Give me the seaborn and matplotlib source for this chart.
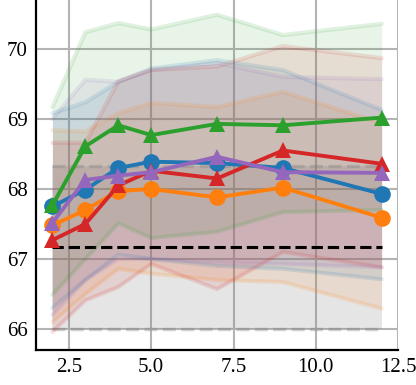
import numpy as np
import pandas as pd
import seaborn as sns
import matplotlib.pyplot as plt

# data
steps = [2, 3, 4, 5, 7, 9, 12]

blue_mean = [67.75, 67.99, 68.30, 68.39, 68.37, 68.30, 67.93]
blue_hi = [69.08, 69.24, 69.53, 69.72, 69.84, 69.70, 69.13]
blue_lo = [66.30, 66.70, 67.06, 67.00, 66.90, 66.86, 66.71]

orange_mean = [67.48, 67.70, 67.97, 68.00, 67.88, 68.02, 67.59]
orange_hi = [68.84, 68.82, 69.08, 69.23, 69.17, 69.39, 68.94]
orange_lo = [66.10, 66.50, 66.86, 66.79, 66.70, 66.67, 66.29]

green_mean = [67.77, 68.61, 68.91, 68.77, 68.93, 68.91, 69.02]
green_hi = [69.17, 70.24, 70.37, 70.28, 70.49, 70.20, 70.36]
green_lo = [66.49, 67.00, 67.51, 67.30, 67.39, 67.67, 67.70]

red_mean = [67.27, 67.50, 68.05, 68.26, 68.15, 68.55, 68.36]
red_hi = [68.66, 68.66, 69.54, 69.70, 69.75, 70.04, 69.87]
red_lo = [65.96, 66.41, 66.60, 66.93, 66.57, 67.10, 66.88]

purple_mean = [67.52, 68.13, 68.19, 68.24, 68.46, 68.24, 68.23]
purple_hi = [69.00, 69.56, 69.53, 69.70, 69.80, 69.60, 69.57]
purple_lo = [66.20, 66.70, 67.00, 67.00, 66.95, 66.93, 66.88]

base_mean = 67.17
base_hi = 68.33
base_lo = 66.00

xticks = [2.5, 5.0, 7.5, 10.0, 12.5]
yticks = [66, 67, 68, 69, 70]

series = [
    ("blue", blue_mean, blue_hi, blue_lo, "tab:blue", "o"),
    ("orange", orange_mean, orange_hi, orange_lo, "tab:orange", "o"),
    ("green", green_mean, green_hi, green_lo, "tab:green", "^"),
    ("red", red_mean, red_hi, red_lo, "tab:red", "^"),
    ("purple", purple_mean, purple_hi, purple_lo, "tab:purple", "^"),
]

sns.set_theme(style="whitegrid")
plt.rcParams['font.family'] = ['Liberation Serif', 'DejaVu Serif']

fig = plt.figure(figsize=(4.16, 3.85), dpi=100)
ax = fig.add_axes([0.0865, 0.091, 0.8705, 0.909])

# baseline band
ax.fill_between([steps[0], steps[-1]], [base_lo] * 2, [base_hi] * 2,
                color="gray", alpha=0.2, lw=0)
for yv in (base_lo, base_hi):
    ax.plot([steps[0], steps[-1]], [yv, yv], color="gray", alpha=0.35, lw=2.5, ls="--")
ax.plot([steps[0], steps[-1]], [base_mean, base_mean], color="black", lw=2.2, ls="--")

for name, m, hi, lo, c, mk in series:
    ax.fill_between(steps, lo, hi, color=c, alpha=0.11, lw=0)
    ax.plot(steps, hi, color=c, alpha=0.14, lw=3)
    ax.plot(steps, lo, color=c, alpha=0.14, lw=3)

for name, m, hi, lo, c, mk in series:
    df = pd.DataFrame({"step": steps, "acc": m})
    sns.lineplot(data=df, x="step", y="acc", ax=ax, color=c, marker=mk,
                 markersize=12, markeredgewidth=0, lw=2.8)

ax.set_xlim(1.5, 12.5)
ax.set_ylim(65.7, 70.7)
ax.set_xticks(xticks)
ax.set_yticks(yticks)
ax.set_xticklabels([f"{v:.1f}" for v in xticks], family="Liberation Serif", fontsize=15)
ax.set_yticklabels([str(v) for v in yticks], family="Liberation Serif", fontsize=15)
ax.set_xlabel("")
ax.set_ylabel("")
ax.tick_params(length=0, pad=6, labelcolor="black")
ax.grid(True, color="#b4b4b4", lw=1.5)
for s in ["top", "right"]:
    ax.spines[s].set_visible(False)
for s in ["left", "bottom"]:
    ax.spines[s].set_color("black")
    ax.spines[s].set_linewidth(1.6)

fig.savefig("out.png", dpi=100)
